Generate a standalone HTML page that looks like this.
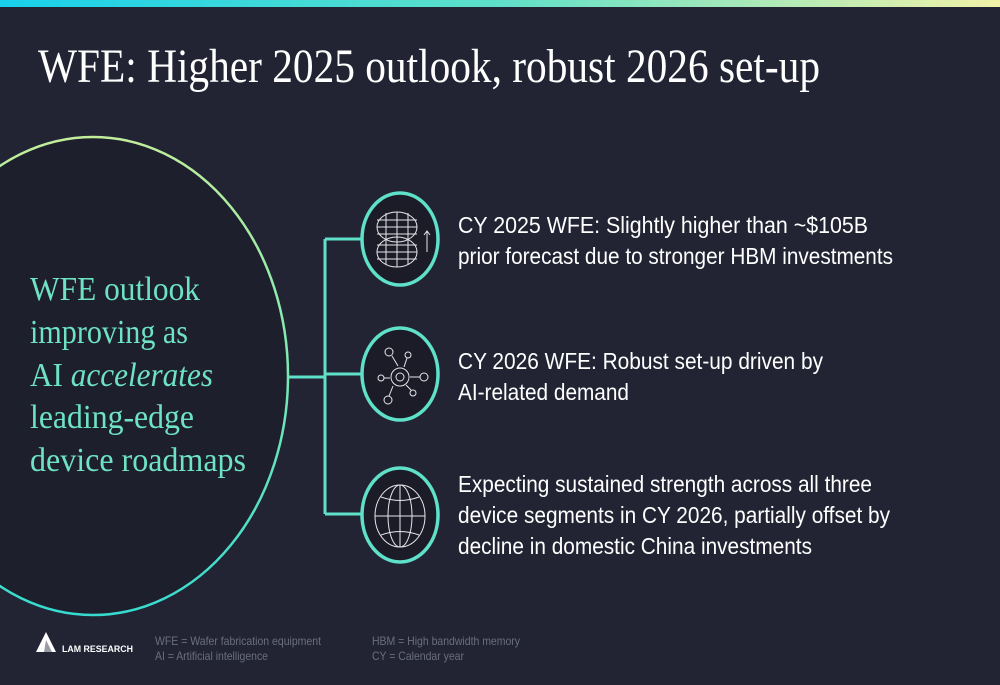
<!DOCTYPE html>
<html><head><meta charset="utf-8"><style>
html,body{margin:0;padding:0;background:#222433;}
svg{display:block}
</style></head><body>
<svg width="1000" height="685" viewBox="0 0 1000 685" xmlns="http://www.w3.org/2000/svg">
<defs>
<linearGradient id="topg" x1="0" x2="1" y1="0" y2="0"><stop offset="0" stop-color="#18d0ec"/><stop offset="0.5" stop-color="#5fe0c8"/><stop offset="1" stop-color="#f2f2a8"/></linearGradient>
<linearGradient id="ellg" x1="0" x2="0" y1="0" y2="1"><stop offset="0" stop-color="#c2ee9c"/><stop offset="0.5" stop-color="#7ae8b4"/><stop offset="1" stop-color="#36dcd0"/></linearGradient>
</defs>
<rect width="1000" height="685" fill="#222433"/>
<rect width="1000" height="7" fill="url(#topg)"/>
<text x="38" y="82" fill="#fff" font-family="Liberation Serif, serif" font-size="48" textLength="782" lengthAdjust="spacingAndGlyphs">WFE: Higher 2025 outlook, robust 2026 set-up</text>

<ellipse cx="93" cy="376" rx="195" ry="239" fill="#1e1f2d" stroke="url(#ellg)" stroke-width="2.5"/>
<g fill="#6ee3c4" font-family="Liberation Serif, serif" font-size="34">
<text x="30" y="300" textLength="170" lengthAdjust="spacingAndGlyphs">WFE outlook</text>
<text x="30" y="343" textLength="158" lengthAdjust="spacingAndGlyphs">improving as</text>
<text x="30" y="386" textLength="183" lengthAdjust="spacingAndGlyphs">AI <tspan font-style="italic">accelerates</tspan></text>
<text x="30" y="428" textLength="164" lengthAdjust="spacingAndGlyphs">leading-edge</text>
<text x="30" y="471" textLength="216" lengthAdjust="spacingAndGlyphs">device roadmaps</text>
</g>

<g stroke="#5fe0c8" stroke-width="3" fill="none">
<line x1="289" y1="377" x2="325" y2="377"/>
<line x1="325" y1="239" x2="325" y2="514"/>
<line x1="325" y1="239" x2="362" y2="239"/>
<line x1="325" y1="374" x2="362" y2="374"/>
<line x1="325" y1="514" x2="362" y2="514"/>
</g>
<g stroke="#5fe0c8" stroke-width="3.5" fill="#1b1c28">
<ellipse cx="400" cy="239" rx="38" ry="46"/>
<ellipse cx="400" cy="374" rx="38" ry="46"/>
<ellipse cx="400" cy="515" rx="38" ry="47"/>
</g>
<g stroke="#e6e6ea" stroke-width="1" fill="none">
<ellipse cx="397" cy="227" rx="20" ry="15"/><ellipse cx="397" cy="252" rx="20" ry="15"/>
<line x1="377" y1="220" x2="417" y2="220"/><line x1="377" y1="227" x2="417" y2="227"/><line x1="377" y1="234" x2="417" y2="234"/>
<line x1="377" y1="245" x2="417" y2="245"/><line x1="377" y1="252" x2="417" y2="252"/><line x1="377" y1="259" x2="417" y2="259"/>
<line x1="386" y1="213" x2="386" y2="265"/><line x1="397" y1="212" x2="397" y2="267"/><line x1="408" y1="213" x2="408" y2="265"/>
<line x1="427" y1="232" x2="427" y2="252"/><path d="M424 235 L427 231 L430 235"/>
</g>
<g stroke="#e6e6ea" stroke-width="1" fill="none">
<circle cx="400" cy="377" r="9"/><circle cx="400" cy="377" r="4"/>
<circle cx="389" cy="352" r="4"/><circle cx="408" cy="355" r="3"/><circle cx="381" cy="378" r="3"/>
<circle cx="424" cy="377" r="4"/><circle cx="413" cy="393" r="3"/><circle cx="388" cy="400" r="4"/>
<path d="M392 356 L398 366 M407 358 L404 367 M384 378 L390 378 M420 377 L410 377 M411 390 L406 385 M389 396 L393 386"/>
</g>
<g stroke="#e6e6ea" stroke-width="1" fill="none">
<ellipse cx="400" cy="516" rx="25" ry="31"/><ellipse cx="400" cy="516" rx="12" ry="31"/>
<line x1="400" y1="485" x2="400" y2="547"/><line x1="375" y1="516" x2="425" y2="516"/>
<path d="M381 497 Q400 504 419 497 M381 535 Q400 528 419 535"/>
</g>

<g fill="#fff" font-family="Liberation Sans, sans-serif" font-size="23">
<text x="458" y="233" textLength="410" lengthAdjust="spacingAndGlyphs">CY 2025 WFE: Slightly higher than ~$105B</text>
<text x="458" y="264" textLength="435" lengthAdjust="spacingAndGlyphs">prior forecast due to stronger HBM investments</text>
<text x="458" y="369" textLength="365" lengthAdjust="spacingAndGlyphs">CY 2026 WFE: Robust set-up driven by</text>
<text x="458" y="400" textLength="171" lengthAdjust="spacingAndGlyphs">AI-related demand</text>
<text x="458" y="492" textLength="414" lengthAdjust="spacingAndGlyphs">Expecting sustained strength across all three</text>
<text x="458" y="523" textLength="432" lengthAdjust="spacingAndGlyphs">device segments in CY 2026, partially offset by</text>
<text x="458" y="554" textLength="354" lengthAdjust="spacingAndGlyphs">decline in domestic China investments</text>
</g>

<g>
<path d="M46 632 L56 652 L36 652 Z" fill="#fff"/>
<path d="M46 640 L52 652 L44 652 Z" fill="#9a9aa6"/>
<text x="62" y="652" fill="#fff" font-family="Liberation Sans, sans-serif" font-weight="bold" font-size="9" textLength="71" lengthAdjust="spacingAndGlyphs">LAM RESEARCH</text>
</g>
<g fill="#6b6e7c" font-family="Liberation Sans, sans-serif" font-size="12">
<text x="155" y="645" textLength="166" lengthAdjust="spacingAndGlyphs">WFE = Wafer fabrication equipment</text>
<text x="155" y="660" textLength="113" lengthAdjust="spacingAndGlyphs">AI = Artificial intelligence</text>
<text x="372" y="645" textLength="148" lengthAdjust="spacingAndGlyphs">HBM = High bandwidth memory</text>
<text x="372" y="660" textLength="92" lengthAdjust="spacingAndGlyphs">CY = Calendar year</text>
</g>
</svg>
</body></html>
